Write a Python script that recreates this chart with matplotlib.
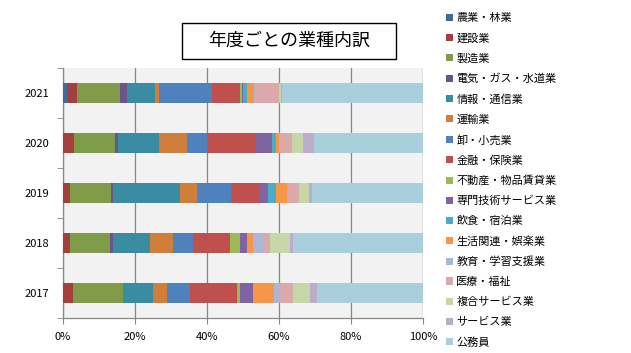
import numpy as np
import matplotlib
matplotlib.use("Agg")
import matplotlib.pyplot as plt
from matplotlib.patches import Rectangle, Patch

plt.rcParams['font.family'] = ['Noto Sans CJK JP', 'DejaVu Sans']

# data (percent share per year)
years = ["2017", "2018", "2019", "2020", "2021"]
industries = ["農業・林業", "建設業", "製造業", "電気・ガス・水道業", "情報・通信業",
              "運輸業", "卸・小売業", "金融・保険業", "不動産・物品賃貸業",
              "専門技術サービス業", "飲食・宿泊業", "生活関連・娯楽業",
              "教育・学習支援業", "医療・福祉", "複合サービス業", "サービス業", "公務員"]

share_2017 = [0.0, 2.8, 13.9, 0.0, 8.3, 4.0, 6.3, 13.1, 0.8, 3.7, 0.0, 5.6, 1.9, 3.5, 4.7, 1.9, 29.5]
share_2018 = [0.0, 1.9, 11.1, 0.8, 10.3, 6.4, 5.6, 10.4, 2.7, 1.9, 0.0, 1.8, 2.7, 1.9, 5.6, 0.7, 36.2]
share_2019 = [0.0, 1.9, 11.3, 0.7, 18.7, 4.5, 9.5, 7.8, 0.0, 2.5, 2.4, 2.9, 0.4, 2.9, 2.9, 0.7, 30.9]
share_2020 = [0.0, 3.1, 11.4, 0.7, 11.5, 7.8, 5.6, 13.2, 0.0, 4.7, 1.1, 0.8, 0.0, 3.8, 2.9, 3.1, 30.3]
share_2021 = [1.2, 2.6, 12.0, 1.9, 7.9, 1.1, 14.7, 7.9, 0.3, 0.4, 1.0, 2.0, 0.2, 6.8, 0.5, 0.3, 39.2]

colors = ["#3F6A9E", "#A33F3C", "#809C4A", "#6B5487", "#3A8CA2", "#CF7F3A",
          "#4F81BD", "#C0504D", "#9BBB59", "#8064A2", "#4BACC6", "#F79646",
          "#A9B8D8", "#DBA9A9", "#C6D6A8", "#B9ADCB", "#A9CEDC"]

data = np.array([share_2017, share_2018, share_2019, share_2020, share_2021])
data = data / data.sum(axis=1, keepdims=True) * 100

fig = plt.figure(figsize=(6.31, 3.53), dpi=100)
ax = fig.add_axes([63/631, 1-318/353, 360/631, 250/353])
ax.set_facecolor("#F2F2F2")

ypos = np.arange(len(years))
left = np.zeros(len(years))
for k in range(len(industries)):
    ax.barh(ypos, data[:, k], left=left, height=0.4, color=colors[k], linewidth=0, zorder=3)
    left += data[:, k]

ax.set_xlim(0, 100)
ax.set_ylim(-0.5, len(years) - 0.5)
ax.set_xticks(np.arange(0, 101, 20))
ax.set_xticklabels([f"{v}%" for v in range(0, 101, 20)], fontsize=8)
ax.set_yticks(ypos)
ax.set_yticklabels(years, fontsize=8)
ax.set_yticks(np.arange(-0.5, len(years)), minor=True)
ax.tick_params(axis='y', which='major', length=0, pad=10)
ax.tick_params(axis='y', which='minor', length=4, color="#868686")
ax.tick_params(axis='x', length=4, color="#868686", pad=6)
ax.grid(axis='x', color="#868686", linewidth=0.9, zorder=1)
for s in ["top", "right"]:
    ax.spines[s].set_visible(False)
for s in ["left", "bottom"]:
    ax.spines[s].set_color("#868686")
    ax.spines[s].set_linewidth(0.9)

# title box
fig.patches.append(Rectangle((182/631, 1-59/353), 214/631, 36/353, transform=fig.transFigure,
                             facecolor="white", edgecolor="black", linewidth=1))
fig.text(289/631, 1-41/353, "年度ごとの業種内訳", ha="center", va="center", fontsize=13)

handles = [Patch(facecolor=c, edgecolor="none") for c in colors]
fig.legend(handles, industries, loc="upper left", bbox_to_anchor=(442/631, 1-9/353),
           frameon=False, fontsize=8, handlelength=0.6, handleheight=0.6,
           handletextpad=0.3, labelspacing=0.88, borderaxespad=0)

fig.savefig("out.png", dpi=100)
